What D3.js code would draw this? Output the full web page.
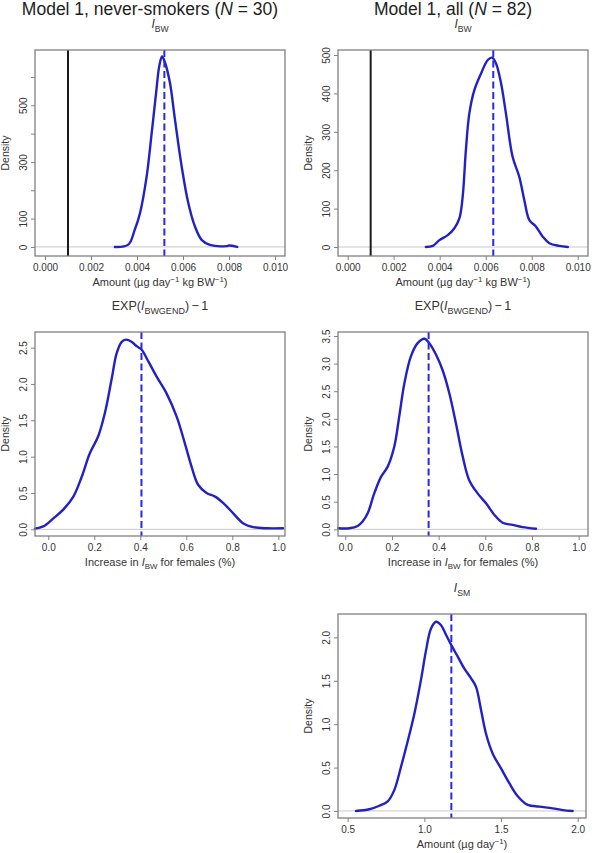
<!DOCTYPE html>
<html><head><meta charset="utf-8">
<script src="https://cdn.jsdelivr.net/npm/d3@7"></script>
<style>html,body{margin:0;padding:0;background:#fff}svg{display:block;font-family:"Liberation Sans",Arial,sans-serif}</style>
</head><body><svg id="c" width="592" height="853"></svg>
<script>
// ---- data ----
const p1X = [0.00304,0.00362,0.0039,0.00413,0.00442,0.00464,0.00483,0.00497,0.00509,0.00522,0.00543,0.00565,0.00594,0.00623,0.00652,0.00681,0.00717,0.0079,0.0080,0.00836];
const p1Y = [0,8,60,119,249,403,544,639,672,650,580,450,285,155,72,25,7,3,5,0];
const p2X = [0.0034,0.0037,0.00399,0.00435,0.00464,0.00486,0.005,0.00514,0.00529,0.00551,0.0058,0.00609,0.00628,0.00645,0.00667,0.00688,0.00717,0.00746,0.00768,0.0079,0.00819,0.00848,0.00877,0.0092,0.00957];
const p2Y = [0,3,18,31,49,75,131,253,348,409,452,487,493,478,426,348,235,183,122,70,53,27,10,3,0];
const p3X = [-0.058,-0.022,0.022,0.065,0.109,0.145,0.181,0.217,0.246,0.275,0.297,0.319,0.338,0.362,0.384,0.406,0.435,0.471,0.514,0.558,0.594,0.623,0.652,0.688,0.725,0.761,0.804,0.848,0.891,0.949,1.02];
const p3Y = [0.01,0.04,0.15,0.27,0.45,0.72,1.05,1.28,1.6,2.06,2.42,2.58,2.61,2.58,2.52,2.47,2.31,2.1,1.87,1.55,1.18,0.86,0.61,0.5,0.45,0.36,0.22,0.08,0.03,0.014,0.014];
const p4X = [-0.03,0.017,0.053,0.074,0.096,0.124,0.153,0.181,0.21,0.231,0.253,0.281,0.31,0.339,0.36,0.389,0.417,0.446,0.474,0.503,0.531,0.567,0.603,0.639,0.674,0.717,0.76,0.817];
const p4Y = [0.02,0.02,0.06,0.14,0.29,0.65,0.95,1.13,1.5,2.04,2.64,3.13,3.37,3.45,3.37,3.16,2.88,2.46,1.92,1.32,0.89,0.65,0.47,0.26,0.12,0.08,0.04,0.01];
const p5X = [0.554,0.641,0.707,0.761,0.804,0.848,0.891,0.935,0.978,1.011,1.043,1.076,1.109,1.141,1.176,1.217,1.261,1.304,1.337,1.37,1.402,1.446,1.5,1.554,1.609,1.674,1.75,1.837,1.902,1.967];
const p5Y = [0,0.02,0.06,0.11,0.24,0.51,0.8,1.12,1.51,1.85,2.1,2.18,2.14,2.03,1.91,1.78,1.64,1.53,1.43,1.16,0.89,0.66,0.49,0.32,0.17,0.07,0.05,0.03,0.01,0];
const medians = [0.00519, 0.00633, 0.405, 0.357, 1.176];
const refLine = 0.001;
const xTicksAmount = [0,0.002,0.004,0.006,0.008,0.010];
const xTicksIncrease = [0,0.2,0.4,0.6,0.8,1.0];
const xTicksSM = [0.5,1.0,1.5,2.0];
const yTicks1 = [0,100,200,300,400,500,600];
const yLabels1 = [0,100,300,500];
const yTicks2 = [0,100,200,300,400,500];
const yTicks3 = [0,0.5,1.0,1.5,2.0,2.5];
const yTicks4 = [0,0.5,1.0,1.5,2.0,2.5,3.0,3.5];
const yTicks5 = [0,0.5,1.0,1.5,2.0];
const titles = [["Model 1, never-smokers (",{t:"N",i:1}," = 30)"],["Model 1, all (",{t:"N",i:1}," = 82)"]];

// ---- drawing ----
const svg = d3.select("#c");
const TXT = "#333";
function rich(sel, parts, size){
  let off = 0;
  parts.forEach(p=>{
    if (typeof p === "string") p = {t:p};
    const ts = sel.append("tspan").text(p.t);
    let target = 0, fs = size;
    if (p.sub){ target = size*0.3; fs = size*0.72; }
    if (p.sup){ target = -size*0.4; fs = size*0.72; }
    if (target !== off){ ts.attr("dy", target-off); off = target; }
    ts.attr("font-size", fs);
    if (p.i) ts.attr("font-style","italic");
  });
}
const line = d3.line().curve(d3.curveCatmullRom.alpha(0.5));

function panel(cfg){
  const {L,R,T,B} = cfg;
  const x = d3.scaleLinear().domain(cfg.xd).range([L,R]);
  const y = d3.scaleLinear().domain(cfg.yd).range([B,T]);
  const g = svg.append("g");
  g.append("line").attr("x1",L).attr("x2",R).attr("y1",y(0)).attr("y2",y(0)).attr("stroke","#c8c8c8").attr("stroke-width",1);
  if (cfg.ref!=null) g.append("line").attr("x1",x(cfg.ref)).attr("x2",x(cfg.ref)).attr("y1",T).attr("y2",B).attr("stroke","#1a1a1a").attr("stroke-width",2);
  g.append("path").attr("d", line(cfg.cx.map((v,i)=>[x(v), y(cfg.cy[i])]))).attr("fill","none").attr("stroke","#2121c4").attr("stroke-width",2.4).attr("stroke-linejoin","round").attr("stroke-linecap","round");
  g.append("line").attr("x1",x(cfg.med)).attr("x2",x(cfg.med)).attr("y1",T).attr("y2",B).attr("stroke","#2a2ae0").attr("stroke-width",2).attr("stroke-dasharray","7,3.5");
  g.append("rect").attr("x",L).attr("y",T).attr("width",R-L).attr("height",B-T).attr("fill","none").attr("stroke","#808080").attr("stroke-width",1.3);
  const xa = g.append("g").attr("transform",`translate(0,${B})`).call(d3.axisBottom(x).tickValues(cfg.xt).tickSize(4).tickSizeOuter(0).tickFormat(cfg.xf));
  xa.select(".domain").remove();
  xa.selectAll(".tick line").attr("stroke","#808080");
  xa.selectAll(".tick text").attr("fill",TXT).attr("font-size",10).attr("font-family",null).attr("dy",null).attr("y",15);
  const ya = g.append("g").attr("transform",`translate(${L},0)`).call(d3.axisLeft(y).tickValues(cfg.yt).tickSize(4).tickSizeOuter(0).tickFormat(v=> (cfg.yl && cfg.yl.indexOf(v)<0) ? "" : cfg.yf(v)));
  ya.select(".domain").remove();
  ya.selectAll(".tick line").attr("stroke","#808080");
  ya.selectAll(".tick text").attr("fill",TXT).attr("font-size",10).attr("font-family",null)
    .attr("x",null).attr("dy",null).attr("text-anchor","middle").attr("transform","translate(-8,0) rotate(-90)");
  g.append("text").attr("transform",`translate(${L-26},${(T+B)/2}) rotate(-90)`).attr("text-anchor","middle").attr("font-size",10.5).attr("fill",TXT).text("Density");
  rich(g.append("text").attr("x",(L+R)/2).attr("y",T-22).attr("text-anchor","middle").attr("fill",TXT), cfg.sub, cfg.subSize);
  rich(g.append("text").attr("x",(L+R)/2).attr("y",B+30).attr("text-anchor","middle").attr("fill",TXT), cfg.xl, 11);
}
const f3 = d3.format(".3f"), f1 = d3.format(".1f"), f0 = d3.format("d");
const subBW = [{t:"I",i:1},{t:"BW",sub:1}];
const subEXP = ["EXP(",{t:"I",i:1},{t:"BWGEND",sub:1},")\u2009\u2212\u20091"];
const subSM = [{t:"I",i:1},{t:"SM",sub:1}];
const xlAmt = ["Amount (\u00b5g day",{t:"\u22121",sup:1}," kg BW",{t:"\u22121",sup:1},")"];
const xlInc = ["Increase in ",{t:"I",i:1},{t:"BW",sub:1}," for females (%)"];
const xlSM = ["Amount (\u00b5g day",{t:"\u22121",sup:1},")"];

panel({L:35,R:285,T:50,B:256,xd:[-0.000435,0.010435],yd:[-32,695],cx:p1X,cy:p1Y,med:medians[0],ref:refLine,xt:xTicksAmount,xf:f3,yt:yTicks1,yl:yLabels1,yf:f0,sub:subBW,subSize:12,xl:xlAmt});
panel({L:338,R:588,T:50,B:256,xd:[-0.00042,0.010448],yd:[-23.4,513],cx:p2X,cy:p2Y,med:medians[1],ref:refLine,xt:xTicksAmount,xf:f3,yt:yTicks2,yf:f0,sub:subBW,subSize:12,xl:xlAmt});
panel({L:35,R:285,T:332,B:536,xd:[-0.0578,1.029],yd:[-0.092,2.715],cx:p3X,cy:p3Y,med:medians[2],xt:xTicksIncrease,xf:f1,yt:yTicks3,yf:f1,sub:subEXP,subSize:12.5,xl:xlInc});
panel({L:338,R:588,T:332,B:536,xd:[-0.0313,1.04],yd:[-0.121,3.572],cx:p4X,cy:p4Y,med:medians[3],xt:xTicksIncrease,xf:f1,yt:yTicks4,yf:f1,sub:subEXP,subSize:12.5,xl:xlInc});
panel({L:338,R:586,T:614,B:818,xd:[0.437,2.054],yd:[-0.081,2.269],cx:p5X,cy:p5Y,med:medians[4],xt:xTicksSM,xf:f1,yt:yTicks5,yf:f1,sub:subSM,subSize:12,xl:xlSM});

[[150,0],[453,1]].forEach(([cx,k])=>{
  rich(svg.append("text").attr("x",cx).attr("y",14.5).attr("text-anchor","middle").attr("fill","#222"), titles[k], 17.5);
});
</script></body></html>
